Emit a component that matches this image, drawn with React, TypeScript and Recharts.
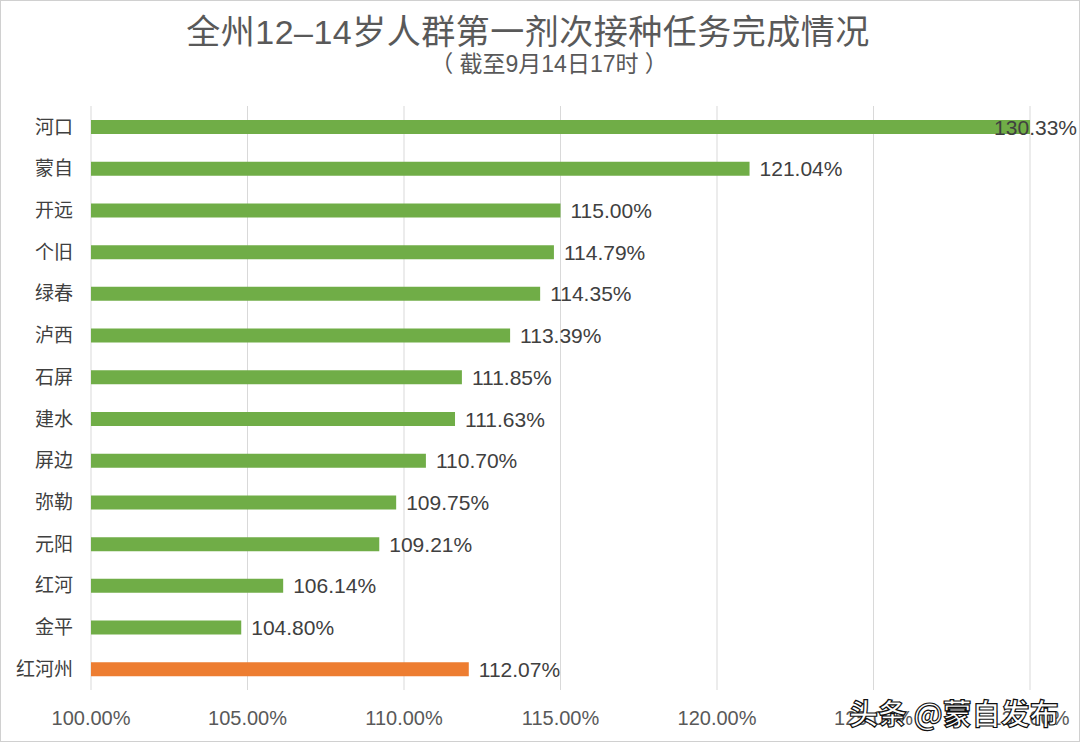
import { BarChart, Bar, XAxis, YAxis, CartesianGrid, Cell, LabelList } from 'recharts'

const regions = ['河口', '蒙自', '开远', '个旧', '绿春', '泸西', '石屏', '建水', '屏边', '弥勒', '元阳', '红河', '金平', '红河州']
const rates = [130.33, 121.04, 115.0, 114.79, 114.35, 113.39, 111.85, 111.63, 110.7, 109.75, 109.21, 106.14, 104.8, 112.07]
const xTicks = [100, 105, 110, 115, 120, 125, 130]

const font = "'Liberation Sans', Arial, 'Noto Sans CJK SC', sans-serif"
const pct = (v: number) => v.toFixed(2) + '%'

const rows = regions.map((name, i) => ({ name, rate: rates[i] }))

function RateLabel(props: any) {
  const { x, y, width, height, value } = props
  let lx = x + width + 10
  let anchor: 'start' | 'end' = 'start'
  // keep the label inside the picture when the bar runs off the axis
  if (lx + 90 > 1078) {
    lx = 1076
    anchor = 'end'
  }
  return (
    <text x={lx} y={y + height / 2} dy="0.36em" textAnchor={anchor} fontSize={21} fill="#404040" fontFamily={font}>
      {pct(value)}
    </text>
  )
}

export default function App() {
  return (
    <div style={{ position: 'absolute', left: 0, top: 0, width: 1080, height: 742, background: '#fff', boxSizing: 'border-box', border: '1px solid #d0d0d0', fontFamily: font }}>
      <div style={{ position: 'absolute', left: 0, width: 1054, top: 4, textAlign: 'center', fontSize: 34, color: '#595959', fontWeight: 400, letterSpacing: 0.5 }}>
        全州12–14岁人群第一剂次接种任务完成情况
      </div>
      <div style={{ position: 'absolute', left: 0, width: 1096, top: 44, textAlign: 'center', fontSize: 23, color: '#595959' }}>
        （ 截至9月14日17时 ）
      </div>
      <BarChart width={1078} height={740} data={rows} layout="vertical" margin={{ top: 105, right: 49, bottom: 11, left: 0 }} barSize={14}>
        <CartesianGrid horizontal={false} stroke="#d9d9d9" />
        <XAxis
          type="number"
          domain={[100, 130]}
          ticks={xTicks}
          allowDataOverflow
          tickFormatter={pct}
          axisLine={false}
          tickLine={false}
          tickMargin={15}
          height={40}
          tick={{ fontSize: 20, fill: '#595959', fontFamily: font }}
        />
        <YAxis
          type="category"
          dataKey="name"
          width={90}
          axisLine={false}
          tickLine={false}
          tickMargin={12}
          interval={0}
          tick={{ fontSize: 19, fill: '#404040', fontFamily: font }}
        />
        <Bar dataKey="rate" isAnimationActive={false}>
          {rows.map((r, i) => (
            <Cell key={r.name} fill={i === rows.length - 1 ? '#ed7d31' : '#70ad47'} />
          ))}
          <LabelList dataKey="rate" content={RateLabel} />
        </Bar>
      </BarChart>
      <div style={{ position: 'absolute', left: 848, top: 690, fontSize: 29, color: '#fff', WebkitTextStroke: '1.2px #111', fontFamily: "'Noto Sans CJK SC', sans-serif", fontWeight: 700 }}>
        头条 @蒙自发布
      </div>
    </div>
  )
}
